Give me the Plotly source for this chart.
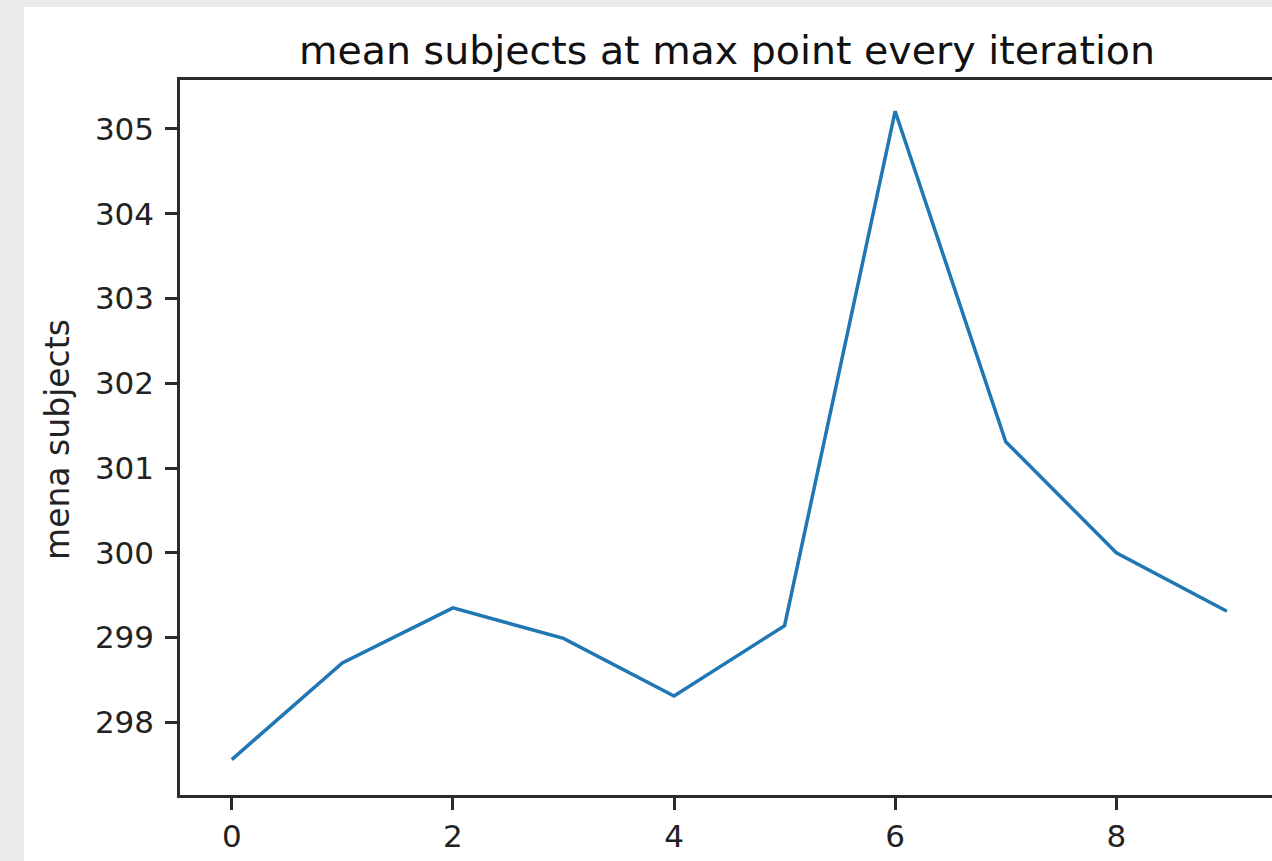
import plotly.graph_objects as go

# Data
iterations = [0, 1, 2, 3, 4, 5, 6, 7, 8, 9]
mean_subjects = [297.56, 298.70, 299.35, 298.99, 298.31, 299.14, 305.21, 301.31, 300.00, 299.31]
x_ticks = [0, 2, 4, 6, 8]
y_ticks = [298, 299, 300, 301, 302, 303, 304, 305]

W, H = 1272, 861
ML, MR, MT, MB = 180, 0, 80, 66

fig = go.Figure()
fig.add_trace(go.Scatter(
    x=iterations, y=mean_subjects, mode="lines",
    line=dict(color="#1f77b4", width=3.5), showlegend=False,
))

axis_common = dict(
    showgrid=False, zeroline=False, showline=True, linecolor="#2b2b2b", linewidth=2.5,
    ticks="outside", ticklen=12, tickwidth=2.5, tickcolor="#2b2b2b",
    tickfont=dict(family="DejaVu Sans", size=31, color="#222222"),
)

fig.update_layout(
    width=W, height=H,
    margin=dict(l=ML, r=MR, t=MT, b=MB, pad=0),
    paper_bgcolor="#ebebeb",
    plot_bgcolor="white",
    xaxis=dict(range=[-0.468, 9.408], tickvals=x_ticks, mirror=True,
               ticklabelstandoff=0, **axis_common),
    yaxis=dict(range=[297.142, 305.578], tickvals=y_ticks,
               ticklabelstandoff=5, **axis_common),
    shapes=[dict(type="rect", xref="paper", yref="paper", layer="below",
                 x0=(24 - ML) / (W - ML - MR), x1=1.01,
                 y0=-0.2, y1=(H - MB - 7) / (H - MT - MB),
                 fillcolor="white", line=dict(width=0))],
    annotations=[
        dict(text="mean subjects at max point every iteration", xref="paper", yref="paper",
             x=(727 - ML) / (W - ML - MR), y=(H - MB - 50) / (H - MT - MB),
             xanchor="center", yanchor="middle", showarrow=False,
             font=dict(family="DejaVu Sans", size=39.5, color="#111111")),
        dict(text="mena subjects", xref="paper", yref="paper",
             x=(57 - ML) / (W - ML - MR), y=(H - MB - 440) / (H - MT - MB),
             xanchor="center", yanchor="middle", textangle=-90, showarrow=False,
             font=dict(family="DejaVu Sans", size=33, color="#222222")),
    ],
)

fig.write_html("out.html")
